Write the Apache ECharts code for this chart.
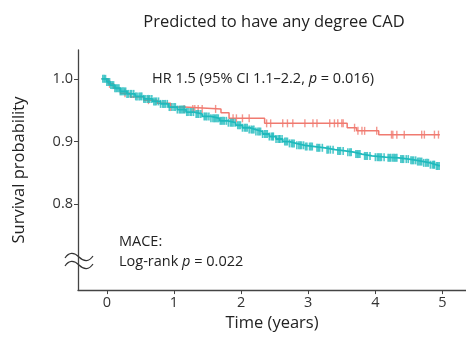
<!DOCTYPE html>
<html><head><meta charset="utf-8">
<script src="https://cdn.jsdelivr.net/npm/echarts@6/dist/echarts.min.js"></script>
<style>html,body{margin:0;padding:0;background:#fff}#c{width:466px;height:337px}</style>
</head><body><div id="c"></div>
<script>
// Kaplan-Meier step data (time in years, survival probability)
const tealTimes = [-0.08,0.00,0.05,0.12,0.20,0.30,0.42,0.55,0.68,0.80,0.92,1.05,1.18,1.30,1.42,1.55,1.68,1.80,1.92,2.02,2.12,2.22,2.32,2.42,2.52,2.62,2.72,2.82,2.95,3.10,3.25,3.40,3.55,3.68,3.80,3.95,4.15,4.35,4.50,4.62,4.72,4.82,4.90,4.96];
const tealSurv  = [1.000,0.995,0.990,0.985,0.980,0.976,0.972,0.968,0.964,0.960,0.955,0.951,0.947,0.944,0.940,0.937,0.933,0.930,0.926,0.922,0.919,0.916,0.912,0.908,0.904,0.900,0.897,0.894,0.892,0.890,0.887,0.885,0.883,0.880,0.877,0.875,0.874,0.872,0.870,0.868,0.866,0.863,0.861,0.860];
const redTimes = [-0.08,0.02,0.10,0.20,0.35,0.55,0.75,0.95,1.15,1.70,1.82,2.35,3.58,3.72,4.05,4.96];
const redSurv  = [1.000,0.992,0.985,0.977,0.971,0.966,0.961,0.955,0.952,0.946,0.937,0.929,0.922,0.917,0.911,0.911];
// censoring times
const tealCensor = [-0.06,-0.04,-0.02,0.00,0.02,0.04,0.06,0.08,0.10,0.12,0.14,0.16,0.18,0.20,0.22,0.24,0.26,0.28,0.30,0.32,0.35,0.37,0.40,0.43,0.45,0.48,0.50,0.52,0.55,0.57,0.60,0.62,0.64,0.67,0.70,0.72,0.74,0.77,0.80,0.83,0.85,0.87,0.90,0.93,0.97,1.00,1.02,1.05,1.08,1.10,1.12,1.14,1.16,1.19,1.21,1.24,1.26,1.29,1.33,1.35,1.37,1.40,1.45,1.47,1.49,1.52,1.55,1.58,1.60,1.62,1.64,1.66,1.69,1.71,1.73,1.75,1.78,1.81,1.84,1.86,1.88,1.91,1.95,1.97,1.99,2.02,2.05,2.07,2.09,2.12,2.15,2.17,2.19,2.22,2.25,2.27,2.29,2.32,2.35,2.37,2.39,2.42,2.45,2.47,2.48,2.52,2.55,2.57,2.58,2.61,2.65,2.67,2.69,2.72,2.75,2.77,2.79,2.83,2.86,2.88,2.90,2.93,2.96,2.98,3.02,3.04,3.06,3.13,3.15,3.17,3.21,3.28,3.30,3.33,3.37,3.44,3.46,3.48,3.52,3.59,3.62,3.64,3.71,3.73,3.75,3.77,3.84,3.86,3.88,3.92,4.00,4.03,4.05,4.07,4.09,4.13,4.19,4.21,4.23,4.26,4.28,4.30,4.32,4.38,4.40,4.42,4.46,4.49,4.53,4.55,4.57,4.60,4.63,4.65,4.67,4.69,4.72,4.75,4.77,4.79,4.82,4.85,4.87,4.88,4.91,4.93,4.95];
const redCensor = [0.04,0.27,0.62,0.95,1.15,1.28,1.31,1.36,1.42,1.62,1.88,1.93,2.02,2.12,2.38,2.44,2.62,2.69,2.77,2.95,3.07,3.13,3.32,3.39,3.44,3.50,3.52,3.69,3.74,3.80,3.84,4.02,4.24,4.26,4.32,4.43,4.69,4.73,4.88,4.94];
const xTicks = [0,1,2,3,4,5];
const yTicks = [0.8,0.9,1.0];

const TEAL = '#1FBABD', RED = '#F07A70';
function survAt(times, surv, t){ let s = surv[0]; for (let i=0;i<times.length;i++){ if (times[i] <= t) s = surv[i]; } return s; }
const pts = (T,S) => T.map((t,i)=>[t,S[i]]);
const cens = (C,T,S) => C.map(t=>[t, survAt(T,S,t)]);
const FONT = '"Open Sans", "Noto Sans", sans-serif';
const rich = {n:{fontFamily:FONT,fontSize:14.5,fill:'#222'}, i:{fontFamily:FONT,fontSize:14.5,fontStyle:'italic',fill:'#222'}};
function wave(y){
  return [
    {type:'bezierCurve', shape:{x1:65,y1:y+1,cpx1:69,cpy1:y-5,cpx2:74,cpy2:y-5,x2:79,y2:y}, style:{fill:null, stroke:'#333', lineWidth:1.2}, z:10},
    {type:'bezierCurve', shape:{x1:79,y1:y,cpx1:84,cpy1:y+5,cpx2:89,cpy2:y+5,x2:93,y2:y-1}, style:{fill:null, stroke:'#333', lineWidth:1.2}, z:10}
  ];
}
const chart = echarts.init(document.getElementById('c'), null, {renderer:'canvas'});
chart.setOption({
  animation:false,
  backgroundColor:'#fff',
  grid:{left:78, right:0, top:50, bottom:44},
  xAxis:{type:'value', min:-0.43, max:5.35,
    name:'Time (years)', nameLocation:'middle', nameGap:23,
    nameTextStyle:{fontFamily:FONT, fontSize:16.5, color:'#222'},
    axisLine:{show:true, onZero:false, lineStyle:{color:'#444', width:1.3}},
    axisTick:{show:true, length:4, customValues:xTicks, lineStyle:{color:'#444'}},
    axisLabel:{customValues:xTicks, fontFamily:FONT, fontSize:14.5, color:'#333', margin:5},
    splitLine:{show:false}},
  yAxis:{type:'value', min:0.663, max:1.046,
    name:'Survival probability', nameLocation:'middle', nameGap:50, nameRotate:90,
    nameTextStyle:{fontFamily:FONT, fontSize:16.5, color:'#222'},
    axisLine:{show:true, onZero:false, lineStyle:{color:'#444', width:1.3}},
    axisTick:{show:true, length:4, customValues:yTicks, lineStyle:{color:'#444'}},
    axisLabel:{customValues:yTicks, formatter:v=>v.toFixed(1), fontFamily:FONT, fontSize:14.5, color:'#333', margin:5},
    splitLine:{show:false}},
  series:[
    {type:'line', step:'end', data:pts(redTimes,redSurv), showSymbol:false, lineStyle:{color:RED,width:1.5}, z:2},
    {type:'scatter', data:cens(redCensor,redTimes,redSurv), symbol:'rect', symbolSize:[1.4,8], itemStyle:{color:RED}, z:2},
    {type:'line', step:'end', data:pts(tealTimes,tealSurv), showSymbol:false, lineStyle:{color:TEAL,width:1.8}, z:3},
    {type:'scatter', data:cens(tealCensor,tealTimes,tealSurv), symbol:'rect', symbolSize:[1.6,8], itemStyle:{color:TEAL}, z:3}
  ],
  graphic:[
    {type:'text', x:274, y:22, style:{text:'Predicted to have any degree CAD', font:'16.5px '+FONT, fill:'#222', textAlign:'center', textVerticalAlign:'middle'}},
    {type:'text', x:152, y:79, style:{text:'{n|HR 1.5 (95% CI 1.1–2.2, }{i|p}{n| = 0.016)}', rich:rich, textVerticalAlign:'middle'}},
    {type:'text', x:119, y:242, style:{text:'MACE:', font:'14.5px '+FONT, fill:'#222', textVerticalAlign:'middle'}},
    {type:'text', x:119, y:262, style:{text:'{n|Log-rank }{i|p}{n| = 0.022}', rich:rich, textVerticalAlign:'middle'}}
  ].concat(wave(257), wave(265))
});
</script></body></html>
